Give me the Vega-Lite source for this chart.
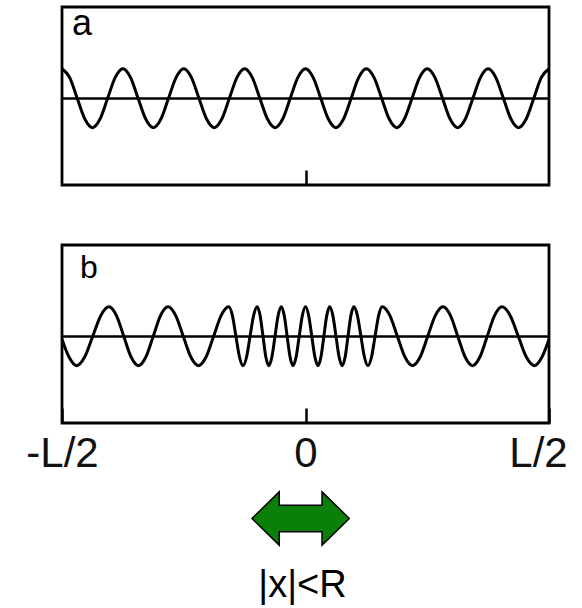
{
  "$schema": "https://vega.github.io/schema/vega-lite/v6.json",
  "background": "white",
  "padding": {"left": 24, "top": 4, "right": 0, "bottom": 0},
  "config": {
    "font": "Liberation Sans",
    "view": {"stroke": "#000", "strokeWidth": 2.8}
  },
  "datasets": {
    "waveA": [
      {"x": -0.5, "y": 1}, {"x": -0.4844, "y": 0.707}, {"x": -0.4688, "y": 0}, {"x": -0.4531, "y": -0.707},
      {"x": -0.4375, "y": -1}, {"x": -0.4219, "y": -0.707}, {"x": -0.4063, "y": 0}, {"x": -0.3906, "y": 0.707},
      {"x": -0.375, "y": 1}, {"x": -0.3594, "y": 0.707}, {"x": -0.3438, "y": 0}, {"x": -0.3281, "y": -0.707},
      {"x": -0.3125, "y": -1}, {"x": -0.2969, "y": -0.707}, {"x": -0.2813, "y": 0}, {"x": -0.2656, "y": 0.707},
      {"x": -0.25, "y": 1}, {"x": -0.2344, "y": 0.707}, {"x": -0.2188, "y": 0}, {"x": -0.2031, "y": -0.707},
      {"x": -0.1875, "y": -1}, {"x": -0.1719, "y": -0.707}, {"x": -0.1563, "y": 0}, {"x": -0.1406, "y": 0.707},
      {"x": -0.125, "y": 1}, {"x": -0.1094, "y": 0.707}, {"x": -0.0938, "y": 0}, {"x": -0.0781, "y": -0.707},
      {"x": -0.0625, "y": -1}, {"x": -0.0469, "y": -0.707}, {"x": -0.0313, "y": 0}, {"x": -0.0156, "y": 0.707},
      {"x": 0, "y": 1}, {"x": 0.0156, "y": 0.707}, {"x": 0.0313, "y": 0}, {"x": 0.0469, "y": -0.707},
      {"x": 0.0625, "y": -1}, {"x": 0.0781, "y": -0.707}, {"x": 0.0938, "y": 0}, {"x": 0.1094, "y": 0.707},
      {"x": 0.125, "y": 1}, {"x": 0.1406, "y": 0.707}, {"x": 0.1563, "y": 0}, {"x": 0.1719, "y": -0.707},
      {"x": 0.1875, "y": -1}, {"x": 0.2031, "y": -0.707}, {"x": 0.2188, "y": 0}, {"x": 0.2344, "y": 0.707},
      {"x": 0.25, "y": 1}, {"x": 0.2656, "y": 0.707}, {"x": 0.2813, "y": 0}, {"x": 0.2969, "y": -0.707},
      {"x": 0.3125, "y": -1}, {"x": 0.3281, "y": -0.707}, {"x": 0.3438, "y": 0}, {"x": 0.3594, "y": 0.707},
      {"x": 0.375, "y": 1}, {"x": 0.3906, "y": 0.707}, {"x": 0.4063, "y": 0}, {"x": 0.4219, "y": -0.707},
      {"x": 0.4375, "y": -1}, {"x": 0.4531, "y": -0.707}, {"x": 0.4688, "y": 0}, {"x": 0.4844, "y": 0.707},
      {"x": 0.5, "y": 1}
    ],
    "waveB": [
      {"x": -0.5, "y": -0.1}, {"x": -0.4856, "y": -0.707}, {"x": -0.4702, "y": -1}, {"x": -0.4535, "y": -0.707},
      {"x": -0.4369, "y": 0}, {"x": -0.4202, "y": 0.707}, {"x": -0.4035, "y": 1}, {"x": -0.3884, "y": 0.707},
      {"x": -0.3732, "y": 0}, {"x": -0.3581, "y": -0.707}, {"x": -0.3429, "y": -1}, {"x": -0.3278, "y": -0.707},
      {"x": -0.3126, "y": 0}, {"x": -0.2975, "y": 0.707}, {"x": -0.2823, "y": 1}, {"x": -0.2667, "y": 0.707},
      {"x": -0.251, "y": 0}, {"x": -0.2354, "y": -0.707}, {"x": -0.2197, "y": -1}, {"x": -0.2042, "y": -0.707},
      {"x": -0.1886, "y": 0}, {"x": -0.1731, "y": 0.707}, {"x": -0.1575, "y": 1}, {"x": -0.1502, "y": 0.707},
      {"x": -0.1429, "y": 0}, {"x": -0.1356, "y": -0.707}, {"x": -0.1283, "y": -1}, {"x": -0.121, "y": -0.707},
      {"x": -0.1138, "y": 0}, {"x": -0.1065, "y": 0.707}, {"x": -0.0992, "y": 1}, {"x": -0.0933, "y": 0.707},
      {"x": -0.0873, "y": 0}, {"x": -0.0814, "y": -0.707}, {"x": -0.0754, "y": -1}, {"x": -0.069, "y": -0.707},
      {"x": -0.0626, "y": 0}, {"x": -0.0561, "y": 0.707}, {"x": -0.0497, "y": 1}, {"x": -0.0437, "y": 0.707},
      {"x": -0.0377, "y": 0}, {"x": -0.0317, "y": -0.707}, {"x": -0.0257, "y": -1}, {"x": -0.0193, "y": -0.707},
      {"x": -0.0129, "y": 0}, {"x": -0.0064, "y": 0.707},
      {"x": 0, "y": 1},
      {"x": 0.0064, "y": 0.707}, {"x": 0.0129, "y": 0}, {"x": 0.0193, "y": -0.707}, {"x": 0.0257, "y": -1},
      {"x": 0.0317, "y": -0.707}, {"x": 0.0377, "y": 0}, {"x": 0.0437, "y": 0.707}, {"x": 0.0497, "y": 1},
      {"x": 0.0561, "y": 0.707}, {"x": 0.0626, "y": 0}, {"x": 0.069, "y": -0.707}, {"x": 0.0754, "y": -1},
      {"x": 0.0814, "y": -0.707}, {"x": 0.0873, "y": 0}, {"x": 0.0933, "y": 0.707}, {"x": 0.0992, "y": 1},
      {"x": 0.1065, "y": 0.707}, {"x": 0.1138, "y": 0}, {"x": 0.121, "y": -0.707}, {"x": 0.1283, "y": -1},
      {"x": 0.1356, "y": -0.707}, {"x": 0.1429, "y": 0}, {"x": 0.1502, "y": 0.707}, {"x": 0.1575, "y": 1},
      {"x": 0.1731, "y": 0.707}, {"x": 0.1886, "y": 0}, {"x": 0.2042, "y": -0.707}, {"x": 0.2197, "y": -1},
      {"x": 0.2354, "y": -0.707}, {"x": 0.251, "y": 0}, {"x": 0.2667, "y": 0.707}, {"x": 0.2823, "y": 1},
      {"x": 0.2975, "y": 0.707}, {"x": 0.3126, "y": 0}, {"x": 0.3278, "y": -0.707}, {"x": 0.3429, "y": -1},
      {"x": 0.3581, "y": -0.707}, {"x": 0.3732, "y": 0}, {"x": 0.3884, "y": 0.707}, {"x": 0.4035, "y": 1},
      {"x": 0.4202, "y": 0.707}, {"x": 0.4369, "y": 0}, {"x": 0.4535, "y": -0.707}, {"x": 0.4702, "y": -1},
      {"x": 0.4856, "y": -0.707}, {"x": 0.5, "y": -0.1}
    ],
    "arrow": [{"x": -0.01, "label": "|x|<R"}]
  },
  "spacing": 60,
  "bounds": "flush",
  "vconcat": [
    {
      "width": 487,
      "height": 178,
      "title": {"text": "a", "anchor": "start", "frame": "group", "offset": 0, "baseline": "alphabetic", "dx": 10, "dy": 64, "fontSize": 36, "fontWeight": "normal", "color": "#000"},
      "data": {"name": "waveA"},
      "mark": {"type": "line", "interpolate": "monotone", "color": "#000", "strokeWidth": 3, "clip": true},
      "encoding": {
        "x": {"field": "x", "type": "quantitative", "scale": {"domain": [-0.5, 0.5]},
              "axis": {"values": [0], "domain": false, "grid": false, "labels": false, "tickSize": -15, "tickWidth": 2.5, "tickColor": "#000", "title": null}},
        "y": {"field": "y", "type": "quantitative", "scale": {"domain": [-2.95, 3.1]},
              "axis": {"values": [0], "grid": true, "gridColor": "#000", "gridWidth": 2.6, "gridOpacity": 1, "domain": false, "ticks": false, "labels": false, "title": null}}
      }
    },
    {
      "width": 487,
      "height": 178,
      "title": {"text": "b", "anchor": "start", "frame": "group", "offset": 0, "baseline": "alphabetic", "dx": 18, "dy": 65, "fontSize": 32, "fontWeight": "normal", "color": "#000"},
      "data": {"name": "waveB"},
      "mark": {"type": "line", "interpolate": "monotone", "color": "#000", "strokeWidth": 3, "clip": true},
      "encoding": {
        "x": {"field": "x", "type": "quantitative", "scale": {"domain": [-0.5, 0.5]},
              "axis": {"values": [-0.5, 0, 0.5], "domain": false, "grid": false, "tickSize": -15, "tickWidth": 2.5, "tickColor": "#000",
                       "labelExpr": "datum.value < 0 ? '-L/2' : (datum.value > 0 ? 'L/2' : '0')",
                       "labelFontSize": 42, "labelColor": "#111", "labelPadding": 25,
                       "labelOffset": {"condition": {"test": "datum.value > 0", "value": -11}, "value": 0},
                       "labelFlush": false, "labelOverlap": false, "title": null}},
        "y": {"field": "y", "type": "quantitative", "scale": {"domain": [-2.95, 3.1]},
              "axis": {"values": [0], "grid": true, "gridColor": "#000", "gridWidth": 2.6, "gridOpacity": 1, "domain": false, "ticks": false, "labels": false, "title": null}}
      }
    },
    {
      "width": 487,
      "height": 71,
      "view": {"stroke": null},
      "title": {"text": "|x|<R", "orient": "bottom", "anchor": "middle", "frame": "group", "offset": 0, "baseline": "alphabetic", "dx": -3, "dy": 43, "fontSize": 38, "fontWeight": "normal", "color": "#000"},
      "data": {"name": "arrow"},
      "mark": {"type": "point", "shape": "M -1 0 L -0.44 -0.548 L -0.44 -0.274 L 0.44 -0.274 L 0.44 -0.548 L 1 0 L 0.44 0.548 L 0.44 0.274 L -0.44 0.274 L -0.44 0.548 Z",
               "size": 9467, "filled": true, "fill": "#0a7f0a", "stroke": "#000", "strokeWidth": 1.5, "opacity": 1},
      "encoding": {
        "x": {"field": "x", "type": "quantitative", "scale": {"domain": [-0.5, 0.5]}, "axis": null}
      }
    }
  ]
}
